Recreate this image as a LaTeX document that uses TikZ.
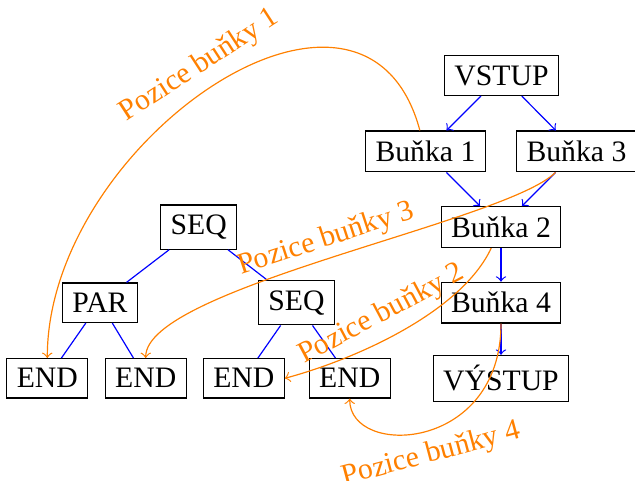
\documentclass[tikz,border=0pt]{standalone}
\usepackage{fontspec}
\setmainfont{Liberation Serif}
\begin{document}
\begin{tikzpicture}[x=0.3367pt,y=-0.3367pt,
  box/.style={draw, inner sep=3.333pt},
  flow/.style={->, blue},
  treeedge/.style={blue},
  cellpos/.style={->, orange},
  poslabel/.style={sloped, text=orange}
]
\useasboundingbox (0,0) rectangle (635,481);

% data flow between cells
\node[box] (vstup)  at (501.5,75.5)  {VSTUP};
\node[box] (b1)     at (425.5,151.4) {Buňka 1};
\node[box] (b3)     at (576.5,151.4) {Buňka 3};
\node[box] (b2)     at (501,227.1)   {Buňka 2};
\node[box] (b4)     at (501,302.7)   {Buňka 4};
\node[box] (vystup) at (501,378.3)   {VÝSTUP};

% program tree
\node[box] (seq)  at (198.7,227.1) {SEQ};
\node[box] (par)  at (100,302.7)   {PAR};
\node[box] (seqb) at (296.5,302.7) {SEQ};
\node[box] (e1)   at (47.3,378.3)  {END};
\node[box] (e2)   at (145.7,378.3) {END};
\node[box] (e3)   at (243.8,378.3) {END};
\node[box] (e4)   at (349.7,378.3) {END};

\draw[flow] (vstup) -- (b1);
\draw[flow] (vstup) -- (b3);
\draw[flow] (b1) -- (b2);
\draw[flow] (b3) -- (b2);
\draw[flow] (b2) -- (b4);
\draw[flow] (b4) -- (vystup);

\draw[treeedge] (seq) -- (par);
\draw[treeedge] (seq) -- (seqb);
\draw[treeedge] (par) -- (e1);
\draw[treeedge] (par) -- (e2);
\draw[treeedge] (seqb) -- (e3);
\draw[treeedge] (seqb) -- (e4);

% where each cell sits in the tree
\draw[cellpos] (b1) to[out=105,in=90,looseness=1.26]
  node[poslabel,above] {Pozice buňky 1} (e1);
\draw[cellpos] (b3) to[out=225,in=90,looseness=0.4]
  node[poslabel,above=-1.7pt] {Pozice buňky 3} (e2);
\draw[cellpos] (b2) to[out=245,in=15,looseness=0.75]
  node[poslabel,above,pos=0.54] {Pozice buňky 2} (e3.east);
\draw[cellpos] (b4) to[out=-90,in=-90,out looseness=1.95,in looseness=0.9]
  node[poslabel,below] {Pozice buňky 4} (e4);
\end{tikzpicture}
\end{document}
